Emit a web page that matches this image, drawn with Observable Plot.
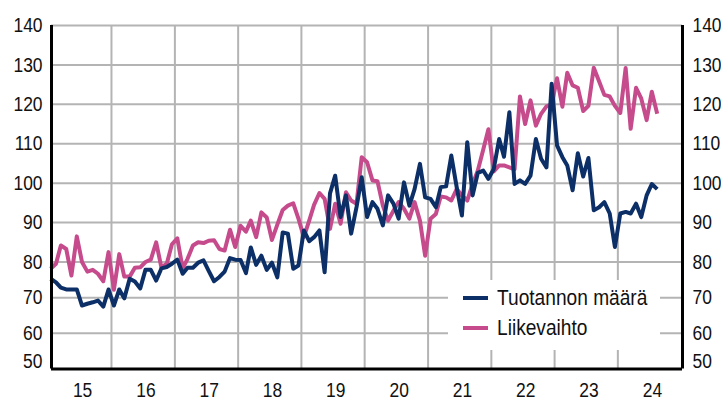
<!DOCTYPE html>
<html><head><meta charset="utf-8">
<script src="https://cdn.jsdelivr.net/npm/d3@7"></script>
<script src="https://cdn.jsdelivr.net/npm/@observablehq/plot@0.6"></script>
<style>
body{margin:0;background:#fff;}
#chart{position:relative;width:721px;height:401px;overflow:hidden;font-family:"Liberation Sans",Arial,sans-serif;}
#legend{position:absolute;left:448px;top:280px;width:212px;height:70px;background:#fff;}
.item{position:absolute;left:15px;height:26px;display:flex;align-items:center;font-size:22px;color:#111;white-space:nowrap;}
.sw{width:25px;height:4px;margin-right:9px;flex:none;}
.lt{display:inline-block;transform:scaleX(0.87);transform-origin:left center;}
</style></head><body>
<div id="chart"></div>
<script>
// Monthly series, January 2015 – August 2024
const startYear = 2015;
const seriesNames = ["Tuotannon määrä", "Liikevaihto"];
const seriesColors = ["#0b2f66", "#c64b8c"];

const tuotannonMaara = [
  75.3, 74.3, 72.8, 72.3, 72.3, 72.3, 67.8, 68.3, 68.7, 69.2, 67.5, 72.3,
  67.8, 72.3, 69.8, 75.3, 74.5, 72.6, 77.8, 77.8, 74.8, 78.2, 78.6, 79.5,
  80.6, 76.7, 78.4, 78.4, 79.8, 80.4, 77.5, 74.6, 75.8, 77.3, 81.0, 80.6,
  80.5, 76.9, 83.7, 79.2, 81.6, 77.8, 79.8, 75.7, 87.5, 87.2, 78.1, 79.0,
  88.0, 85.3, 86.3, 88.0, 77.1, 97.4, 101.9, 91.4, 96.9, 87.2, 93.9, 101.5,
  91.4, 95.2, 93.5, 89.3, 96.9, 94.8, 91.0, 100.2, 94.3, 98.5, 104.9, 96.4,
  96.0, 93.9, 99.0, 99.2, 107.0, 99.0, 91.8, 110.4, 96.9, 102.6, 103.2, 101.1,
  103.6, 111.2, 106.7, 118.0, 99.8, 100.7, 99.8, 101.9, 111.2, 106.2, 104.0, 125.2,
  109.6, 106.6, 104.5, 98.2, 107.6, 101.7, 106.4, 93.1, 93.9, 95.2, 92.3, 83.8,
  92.3, 92.7, 92.3, 94.8, 91.4, 96.9, 99.8, 98.5
];
const liikevaihto = [
  78.1, 79.5, 84.2, 83.3, 76.2, 86.5, 80.0, 77.3, 77.8, 76.7, 74.6, 82.5,
  72.2, 82.0, 75.9, 75.9, 78.4, 78.5, 80.0, 80.6, 85.0, 78.5, 79.5, 84.5,
  86.0, 78.2, 80.8, 84.2, 85.0, 84.8, 85.4, 85.5, 83.3, 82.9, 88.2, 83.8,
  89.2, 87.7, 90.5, 86.3, 92.6, 91.3, 85.6, 89.5, 93.2, 94.3, 94.9, 91.0,
  86.3, 90.5, 94.5, 97.5, 96.0, 88.4, 94.8, 89.7, 97.7, 95.6, 94.8, 106.6,
  105.3, 100.7, 100.5, 94.3, 90.5, 93.0, 95.2, 93.5, 91.0, 95.2, 90.5, 81.6,
  91.0, 92.2, 96.6, 96.4, 95.6, 98.5, 96.9, 95.6, 99.8, 103.2, 108.5, 113.7,
  103.0, 104.5, 104.5, 104.0, 103.5, 122.0, 115.0, 121.0, 114.6, 117.6, 119.5, 120.0,
  126.6, 119.4, 128.0, 124.8, 124.2, 118.3, 119.6, 129.3, 125.8, 122.4, 122.0, 119.6,
  117.8, 129.2, 113.8, 124.2, 121.5, 116.0, 123.2, 117.6
];
const yTicks = [60, 70, 80, 90, 100, 110, 120, 130, 140];
const yBottomTick = [50];
const yearLabels = ["15", "16", "17", "18", "19", "20", "21", "22", "23", "24"];
const gridYears = [2016, 2017, 2018, 2019, 2020, 2021, 2022, 2023, 2024];

const monthDate = i => new Date(Date.UTC(startYear, i, 15));
const rows = [];
[liikevaihto, tuotannonMaara].forEach((vals, k) => {
  const name = k === 0 ? seriesNames[1] : seriesNames[0];
  vals.forEach((v, i) => rows.push({date: monthDate(i), value: v, series: name}));
});

const xStart = new Date(Date.UTC(2015, 0, 20));
const xEnd = new Date(Date.UTC(2025, 0, 8));
const gridColor = "#b4b4b4";
const fontStack = '"Liberation Sans",Arial,sans-serif';

const chart = Plot.plot({
  width: 721, height: 401,
  marginLeft: 51, marginRight: 39, marginTop: 25, marginBottom: 32.5,
  style: {fontFamily: fontStack, fontSize: "21px", color: "#111", background: "transparent"},
  x: {type: "utc", domain: [xStart, xEnd], axis: null},
  y: {type: "linear", domain: [50, 80, 140], range: [368.5, 261.5, 25], axis: null},
  color: {domain: seriesNames, range: seriesColors},
  marks: [
    Plot.ruleY(yTicks, {stroke: gridColor, strokeWidth: 2}),
    Plot.ruleX(gridYears.map(y => new Date(Date.UTC(y, 0, 1))), {y1: 50, y2: 140, stroke: gridColor, strokeWidth: 2}),
    Plot.line(rows.filter(d => d.series === seriesNames[1]), {x: "date", y: "value", stroke: "series", strokeWidth: 4, strokeLinejoin: "round", strokeLinecap: "butt"}),
    Plot.line(rows.filter(d => d.series === seriesNames[0]), {x: "date", y: "value", stroke: "series", strokeWidth: 4, strokeLinejoin: "round", strokeLinecap: "butt"}),
    Plot.ruleX([xStart, xEnd], {y1: 50, y2: 140, stroke: "#000", strokeWidth: 3}),
    Plot.ruleY([50], {stroke: "#000", strokeWidth: 3}),
    Plot.axisY(yTicks, {anchor: "left", tickSize: 0, tickPadding: 9, fontSize: 21, label: null}),
    Plot.axisY(yBottomTick, {anchor: "left", tickSize: 0, tickPadding: 9, fontSize: 21, dy: -8, label: null}),
    Plot.axisY(yTicks, {anchor: "right", tickSize: 0, tickPadding: 10, fontSize: 21, label: null}),
    Plot.axisY(yBottomTick, {anchor: "right", tickSize: 0, tickPadding: 10, fontSize: 21, dy: -8, label: null}),
    Plot.text(yearLabels, {x: d => new Date(Date.UTC(2000 + +d, 6, 1)), y: () => 50, dy: 21.5, dx: 3, text: d => d, fontSize: 21, fill: "#111"})
  ]
});

const root = document.getElementById("chart");
root.appendChild(chart);

// Narrow the label glyphs around their anchor to match the condensed typeface of the original
chart.querySelectorAll("text").forEach(t => {
  const tr = t.getAttribute("transform");
  if (tr) t.setAttribute("transform", tr + " scale(0.83,1)");
  else {
    const x = +t.getAttribute("x") || 0, y = +t.getAttribute("y") || 0;
    t.setAttribute("transform", `translate(${x},${y}) scale(0.83,1) translate(${-x},${-y})`);
  }
});

const legend = document.createElement("div");
legend.id = "legend";
seriesNames.forEach((name, i) => {
  const item = document.createElement("div");
  item.className = "item";
  item.style.top = (5 + i * 30) + "px";
  const sw = document.createElement("span");
  sw.className = "sw";
  sw.style.background = seriesColors[i];
  const t = document.createElement("span");
  t.className = "lt";
  t.textContent = name;
  item.appendChild(sw);
  item.appendChild(t);
  legend.appendChild(item);
});
root.appendChild(legend);
</script>
</body></html>
